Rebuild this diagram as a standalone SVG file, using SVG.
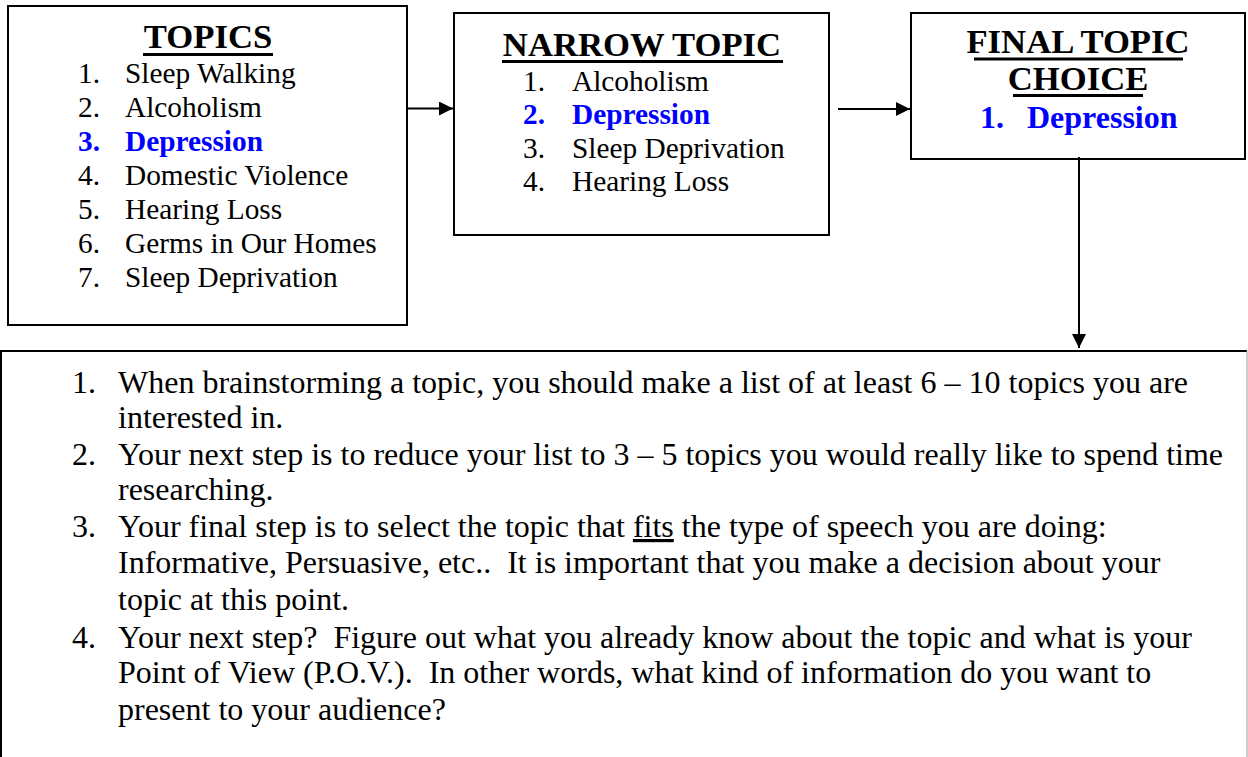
<svg xmlns="http://www.w3.org/2000/svg" width="1248" height="757" viewBox="0 0 1248 757">
<style>
text{font-family:"Liberation Serif","Times New Roman",serif;fill:#000;white-space:pre}
.title{font-size:34.67px;font-weight:bold;text-anchor:middle}
.ul{stroke:#000;stroke-width:3}
.item{font-size:29.33px}
.hl{fill:#0000FF;font-weight:bold}
.big{font-size:32px}
.body{font-size:32px}
.box{fill:#fff;stroke:#000;stroke-width:2}
.conn{stroke:#000;stroke-width:2;fill:none}
</style>
<defs>
<marker id="ah" viewBox="0 0 14 14" refX="14" refY="7" markerWidth="14" markerHeight="14" markerUnits="userSpaceOnUse" orient="auto">
<path d="M0,0 L14,7 L0,14 Z" fill="#000"/>
</marker>
</defs>
<g id="topics">
<rect class="box" x="8" y="6" width="399" height="319"/>
<text class="title" x="208" y="48">TOPICS</text>
<line class="ul" x1="143" y1="54.5" x2="273" y2="54.5"/>
<text class="item" x="78" y="83">1.</text><text class="item" x="125" y="83">Sleep Walking</text>
<text class="item" x="78" y="117">2.</text><text class="item" x="125" y="117">Alcoholism</text>
<text class="item hl" x="78" y="151">3.</text><text class="item hl" x="125" y="151">Depression</text>
<text class="item" x="78" y="185">4.</text><text class="item" x="125" y="185">Domestic Violence</text>
<text class="item" x="78" y="219">5.</text><text class="item" x="125" y="219">Hearing Loss</text>
<text class="item" x="78" y="253">6.</text><text class="item" x="125" y="253">Germs in Our Homes</text>
<text class="item" x="78" y="287">7.</text><text class="item" x="125" y="287">Sleep Deprivation</text>
</g>
<g id="narrow">
<rect class="box" x="454" y="13" width="375" height="222"/>
<text class="title" x="642" y="56">NARROW TOPIC</text>
<line class="ul" x1="502" y1="61.5" x2="783" y2="61.5"/>
<text class="item" x="523" y="91">1.</text><text class="item" x="572" y="91">Alcoholism</text>
<text class="item hl" x="523" y="124">2.</text><text class="item hl" x="572" y="124">Depression</text>
<text class="item" x="523" y="158">3.</text><text class="item" x="572" y="158">Sleep Deprivation</text>
<text class="item" x="523" y="191">4.</text><text class="item" x="572" y="191">Hearing Loss</text>
</g>
<g id="final">
<rect class="box" x="911" y="13" width="334" height="146"/>
<text class="title" x="1078" y="53">FINAL TOPIC</text>
<line class="ul" x1="974" y1="59" x2="1183" y2="59"/>
<text class="title" x="1078" y="90">CHOICE</text>
<line class="ul" x1="1013" y1="95.5" x2="1143" y2="95.5"/>
<text class="big hl" x="980" y="128">1.</text><text class="big hl" x="1027" y="128">Depression</text>
</g>
<g id="notes">
<path d="M1,757 L1,351 L1247,351" fill="none" stroke="#000" stroke-width="2"/>
<line x1="1247" y1="351" x2="1247" y2="757" stroke="#999" stroke-width="1"/>
<text class="body" x="72" y="393">1.</text><text class="body" x="118" y="393">When brainstorming a topic, you should make a list of at least 6 – 10 topics you are</text>
<text class="body" x="118" y="428">interested in.</text>
<text class="body" x="72" y="465">2.</text><text class="body" x="118" y="465">Your next step is to reduce your list to 3 – 5 topics you would really like to spend time</text>
<text class="body" x="118" y="500">researching.</text>
<text class="body" x="72" y="537">3.</text><text class="body" x="118" y="537">Your final step is to select the topic that <tspan text-decoration="underline">fits</tspan> the type of speech you are doing:</text>
<text class="body" x="118" y="573" xml:space="preserve">Informative, Persuasive, etc..  It is important that you make a decision about your</text>
<text class="body" x="118" y="610">topic at this point.</text>
<text class="body" x="72" y="648">4.</text><text class="body" x="118" y="648" xml:space="preserve">Your next step?  Figure out what you already know about the topic and what is your</text>
<text class="body" x="118" y="683" xml:space="preserve">Point of View (P.O.V.).  In other words, what kind of information do you want to</text>
<text class="body" x="118" y="720">present to your audience?</text>
</g>
<g id="connectors">
<line class="conn" x1="407" y1="108.5" x2="453" y2="108.5" marker-end="url(#ah)"/>
<line class="conn" x1="838" y1="109" x2="910" y2="109" marker-end="url(#ah)"/>
<line class="conn" x1="1079" y1="157" x2="1079" y2="348" marker-end="url(#ah)"/>
</g>
</svg>
